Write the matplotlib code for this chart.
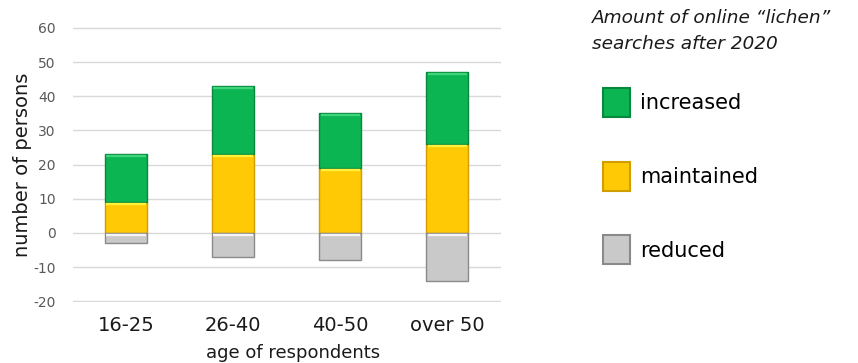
import matplotlib
matplotlib.use("Agg")
import matplotlib.pyplot as plt
import matplotlib.transforms as mtransforms
from matplotlib.patches import Patch
import numpy as np

categories = ["16-25", "26-40", "40-50", "over 50"]
increased = [14, 20, 16, 21]
maintained = [9, 23, 19, 26]
reduced = [-3, -7, -8, -14]
yticks = [-20, -10, 0, 10, 20, 30, 40, 50, 60]

green, green_edge, green_hi = "#0bb552", "#07883c", "#3fd47c"
yellow, yellow_edge, yellow_hi = "#ffc905", "#d19e00", "#fff03a"
grey, grey_edge, grey_hi = "#c9c9c9", "#8a8a8a", "#f4f4f4"

plt.rcParams["font.family"] = ["DejaVu Sans"]

fig = plt.figure(figsize=(8.58, 3.63), dpi=100)
ax = fig.add_axes([0.0845, 0.167, 0.499, 0.759])

x = np.arange(len(categories))
w = 0.39
b_m = ax.bar(x, maintained, w, color=yellow, edgecolor=yellow_edge, linewidth=1.0, zorder=3)
b_i = ax.bar(x, increased, w, bottom=maintained, color=green, edgecolor=green_edge, linewidth=1.0, zorder=3)
b_r = ax.bar(x, reduced, w, color=grey, edgecolor=grey_edge, linewidth=1.0, zorder=3)

# bevel highlight just inside the upper edge of every segment
shift = mtransforms.offset_copy(ax.transData, fig=fig, y=-1.3, units="points")
for bars, hi in ((b_m, yellow_hi), (b_i, green_hi), (b_r, grey_hi)):
    for p in bars:
        x0 = p.get_x()
        x1 = x0 + p.get_width()
        top = max(p.get_y(), p.get_y() + p.get_height())
        ax.plot([x0 + 0.012, x1 - 0.012], [top, top], color=hi, lw=1.7,
                solid_capstyle="butt", transform=shift, zorder=4)

ax.set_xlim(-0.5, len(categories) - 0.5)
ax.set_ylim(-20.3, 60.3)
ax.set_yticks(yticks)
ax.set_yticklabels([str(v) for v in yticks], color="#595959", fontsize=10)
ax.set_xticks(x)
ax.set_xticklabels(categories, fontsize=14, color="#1a1a1a")
ax.tick_params(axis="both", length=0)
ax.tick_params(axis="y", pad=12)
ax.tick_params(axis="x", pad=10)
ax.grid(axis="y", color="#d9d9d9", linewidth=1.0, zorder=0)
for s in ax.spines.values():
    s.set_visible(False)

ax.set_ylabel("number of persons", fontsize=14, color="#1a1a1a", labelpad=1)
ax.set_xlabel("age of respondents", fontsize=13, color="#1a1a1a", labelpad=6)
ax.xaxis.label.set_x(0.515)

handles = [
    Patch(facecolor=green, edgecolor=green_edge, linewidth=1.5, label="increased"),
    Patch(facecolor=yellow, edgecolor=yellow_edge, linewidth=1.5, label="maintained"),
    Patch(facecolor=grey, edgecolor=grey_edge, linewidth=1.5, label="reduced"),
]
leg = fig.legend(handles=handles, loc="upper left", bbox_to_anchor=(0.703, 0.757),
                 frameon=False, fontsize=15, handlelength=1.3, handleheight=1.75,
                 handletextpad=0.45, labelspacing=2.15, borderaxespad=0, borderpad=0)
fig.text(0.69, 0.975, "Amount of online \u201clichen\u201d\nsearches after 2020",
         fontsize=13.3, style="italic", va="top", ha="left", color="#1a1a1a",
         linespacing=1.55)

fig.savefig("out.png", dpi=100)
